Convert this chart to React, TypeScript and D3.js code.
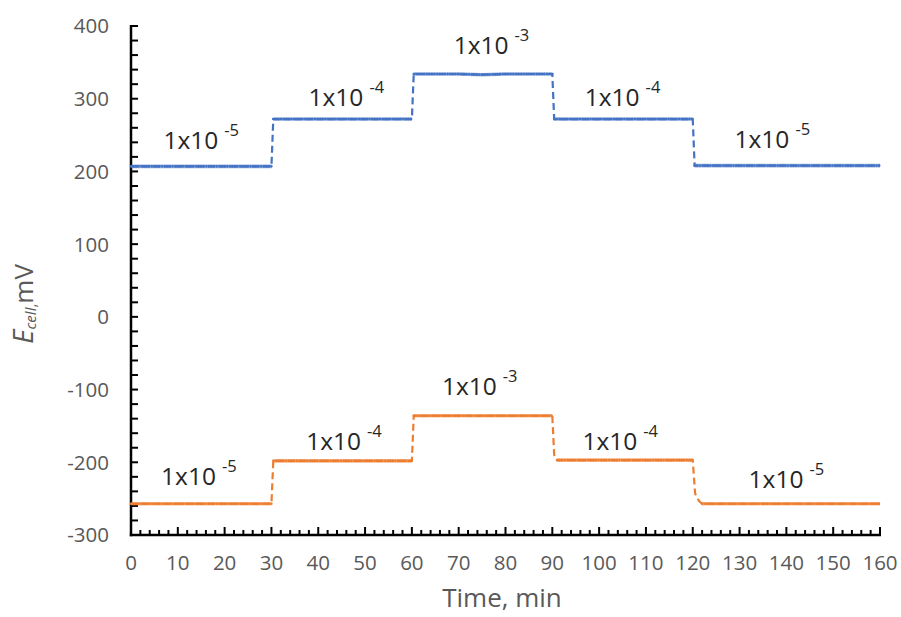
import React, { useEffect, useRef } from "react";
import * as d3 from "d3";

// step data (time in min, Ecell in mV)
const blueTimes = [0, 30, 30.4, 60, 60.4, 70, 75, 80, 90, 90.4, 120, 120.4, 160];
const blueValues = [207, 207, 272, 272, 334, 334, 333, 334, 334, 272, 272, 208, 208];
const orangeTimes = [0, 30, 30.4, 60, 60.4, 90, 90.4, 91, 120, 120.5, 121.3, 122, 160];
const orangeValues = [-257, -257, -198, -198, -136, -136, -190, -197, -197, -243, -253, -257, -257];

// concentration labels (centre time, baseline value)
const blueLabelTimes = [15, 46, 77, 105, 137];
const blueLabelValues = [231, 290, 361, 290, 232];
const orangeLabelTimes = [14.5, 45.5, 74.5, 104.5, 140];
const orangeLabelValues = [-231, -183, -108, -183, -235];
const labelExps = ["-5", "-4", "-3", "-4", "-5"];

const yTicks = [400, 300, 200, 100, 0, -100, -200, -300];
const xTicks = [0, 10, 20, 30, 40, 50, 60, 70, 80, 90, 100, 110, 120, 130, 140, 150, 160];

const BLUE = "#4472C4";
const ORANGE = "#ED7D31";
const FONT = "'Open Sans', sans-serif";

const Chart = () => {
  const svgRef = useRef<SVGSVGElement>(null);

  useEffect(() => {
    const svg = d3.select(svgRef.current);
    svg.selectAll("*").remove();

    const x = d3.scaleLinear().domain([0, 160]).range([131, 880]);
    const y = d3.scaleLinear().domain([-300, 400]).range([535, 26]);

    // minor ticks
    const g = svg.append("g");
    g.selectAll(".ymin")
      .data(d3.range(-300, 401, 20))
      .join("line")
      .attr("x1", x(0))
      .attr("x2", x(0) + 7)
      .attr("y1", (d) => y(d))
      .attr("y2", (d) => y(d))
      .attr("stroke", "#000")
      .attr("stroke-width", 2);
    g.selectAll(".xmin")
      .data(d3.range(0, 161, 2))
      .join("line")
      .attr("x1", (d) => x(d))
      .attr("x2", (d) => x(d))
      .attr("y1", y(-300))
      .attr("y2", (d) => y(-300) - (d % 10 === 0 ? 8 : 5))
      .attr("stroke", "#000")
      .attr("stroke-width", 2);

    // axis lines
    g.append("line")
      .attr("x1", x(0)).attr("x2", x(0))
      .attr("y1", y(400) - 1).attr("y2", y(-300) + 1.2)
      .attr("stroke", "#000").attr("stroke-width", 2.5);
    g.append("line")
      .attr("x1", x(0) - 1.2).attr("x2", x(160) + 1)
      .attr("y1", y(-300)).attr("y2", y(-300))
      .attr("stroke", "#000").attr("stroke-width", 2.5);

    // tick labels
    svg.append("g")
      .selectAll("text")
      .data(yTicks)
      .join("text")
      .attr("x", x(0) - 22)
      .attr("y", (d) => y(d))
      .attr("dy", "0.36em")
      .attr("text-anchor", "end")
      .attr("font-family", FONT)
      .attr("font-size", 20.5)
      .attr("fill", "#595959")
      .text((d) => d);
    svg.append("g")
      .selectAll("text")
      .data(xTicks)
      .join("text")
      .attr("x", (d) => x(d))
      .attr("y", 563)
      .attr("dy", "0.36em")
      .attr("text-anchor", "middle")
      .attr("font-family", FONT)
      .attr("font-size", 20.5)
      .attr("fill", "#595959")
      .text((d) => d);

    // axis titles
    svg.append("text")
      .attr("x", 502)
      .attr("y", 607)
      .attr("text-anchor", "middle")
      .attr("font-family", FONT)
      .attr("font-size", 26)
      .attr("fill", "#595959")
      .text("Time, min");

    const yt = svg.append("text")
      .attr("transform", "translate(33,304) rotate(-90)")
      .attr("text-anchor", "middle")
      .attr("font-family", FONT)
      .attr("fill", "#595959");
    yt.append("tspan").attr("font-size", 28).attr("font-style", "italic").text("E");
    yt.append("tspan").attr("font-size", 15).attr("font-style", "italic").attr("dy", 3).text("cell");
    yt.append("tspan").attr("font-size", 15).attr("dy", 0).text(",");
    yt.append("tspan").attr("font-size", 26).attr("dy", -3).text("mV");

    // series
    const line = d3.line<number>().x((d) => x(d[0])).y((d) => y(d[1]));
    const series = [
      { color: BLUE, t: blueTimes, v: blueValues },
      { color: ORANGE, t: orangeTimes, v: orangeValues },
    ];
    series.forEach((s) => {
      const pts = s.t.map((t, i) => [t, s.v[i]]);
      svg.append("path")
        .attr("d", line(pts as any))
        .attr("fill", "none")
        .attr("stroke", s.color)
        .attr("stroke-width", 2.2)
        .attr("stroke-dasharray", "7 4");
      const flats = [];
      for (let i = 0; i < pts.length - 1; i++) {
        if (Math.abs(pts[i + 1][1] - pts[i][1]) < 5 && pts[i + 1][0] - pts[i][0] > 1) {
          flats.push([pts[i], pts[i + 1]]);
        }
      }
      flats.forEach((f) => {
        svg.append("path")
          .attr("d", line(f as any))
          .attr("fill", "none")
          .attr("stroke", s.color)
          .attr("stroke-width", 3.6)
          .attr("stroke-opacity", 0.55);
        svg.append("path")
          .attr("d", line(f as any))
          .attr("fill", "none")
          .attr("stroke", s.color)
          .attr("stroke-width", 2.6)
          .attr("stroke-linecap", "round")
          .attr("stroke-dasharray", "0 2.6");
      });
    });

    // concentration labels
    const labels = [
      ...blueLabelTimes.map((t, i) => ({ t, v: blueLabelValues[i], e: labelExps[i] })),
      ...orangeLabelTimes.map((t, i) => ({ t, v: orangeLabelValues[i], e: labelExps[i] })),
    ];
    labels.forEach((l) => {
      const tx = svg.append("text")
        .attr("x", x(l.t))
        .attr("y", y(l.v))
        .attr("text-anchor", "middle")
        .attr("font-family", FONT)
        .attr("fill", "#262626");
      tx.append("tspan").attr("font-size", 24.5).text("1x10");
      tx.append("tspan").attr("font-size", 16.5).attr("dx", 6).attr("dy", -13).text(l.e);
    });
  }, []);

  return (
    <svg
      ref={svgRef}
      width={901}
      height={617}
      style={{ position: "absolute", left: 0, top: 0, background: "#fff" }}
    />
  );
};

export default function App() {
  return <Chart />;
}
